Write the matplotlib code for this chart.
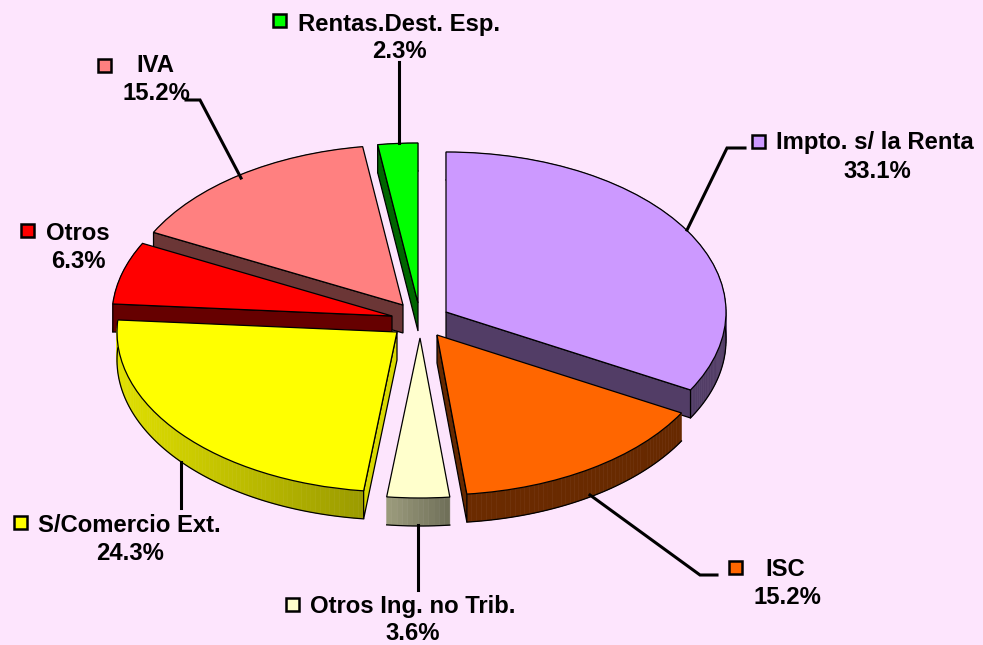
import numpy as np
import matplotlib
matplotlib.use("Agg")
import matplotlib.pyplot as plt
from matplotlib.patches import Wedge, Polygon, Rectangle
from matplotlib.collections import PolyCollection
from matplotlib.transforms import Affine2D

# --- data
categories = ["Impto. s/ la Renta", "ISC", "Otros Ing. no Trib.", "S/Comercio Ext.",
              "Otros", "IVA", "Rentas.Dest. Esp."]
values = [33.1, 15.2, 3.6, 24.3, 6.3, 15.2, 2.3]
colors = ["#CC99FF", "#FF6600", "#FFFFCC", "#FFFF00", "#FF0000", "#FF8080", "#00FF00"]
pct_labels = ["33.1%", "15.2%", "3.6%", "24.3%", "6.3%", "15.2%", "2.3%"]

# --- layout (pixels)
W, H = 983, 645
BG = "#FDE5FD"
RX, RY, DEPTH = 280, 160, 28
apex = [(446, 312), (437, 335), (420, 338), (397, 332), (392, 316), (403, 305), (418, 303)]
wall_light = [0.4, 0.4, 0.4, 0.85, 0.4, 0.42, 0.4]
draw_order = [6, 5, 4, 0, 3, 1, 2]
marker_xy = [(758, 141), (735, 567), (292, 604), (20, 522), (27, 230), (104, 65), (279, 20)]
name_xy = [(776, 143), (765, 569), (310, 606), (38, 525), (46, 233), (136, 66), (298, 24)]
pct_xy = [(877, 171), (787, 597), (413, 633), (130, 553), (78, 261), (156, 94), (399, 51)]
leaders = [[(745, 148), (727, 148), (687, 230)],
           [(717, 575), (700, 575), (590, 495)],
           [(418, 525), (418, 590)],
           [(181, 508), (181, 462)],
           None,
           [(186, 100), (200, 100), (241, 178)],
           [(399, 62), (399, 143)]]

plt.rcParams["font.family"] = ["Liberation Sans", "DejaVu Sans"]
fig = plt.figure(figsize=(W / 100, H / 100), dpi=100, facecolor=BG)
ax = fig.add_axes([0, 0, 1, 1])
ax.set_xlim(0, W)
ax.set_ylim(H, 0)
ax.axis("off")


def shade(col, k):
    return tuple(c * k for c in matplotlib.colors.to_rgb(col))


def rim_light(s):
    return np.interp(s, [-1, -0.1, 0.12, 1], [0.88, 0.6, 0.42, 0.4])


edges = np.cumsum([0] + values) / sum(values) * 360
z = 2
for i in draw_order:
    t1, t2 = edges[i], edges[i + 1]
    cx, cy = apex[i]
    col = colors[i]
    th = np.radians(np.linspace(t1, t2, max(int(t2 - t1), 2) + 1))
    px = cx + RX * np.sin(th)
    py = cy - RY * np.cos(th)

    # outer rim
    quads, cols = [], []
    for j in range(len(th) - 1):
        quads.append([(px[j], py[j]), (px[j + 1], py[j + 1]),
                      (px[j + 1], py[j + 1] + DEPTH), (px[j], py[j] + DEPTH)])
        cols.append(shade(col, rim_light(np.sin((th[j] + th[j + 1]) / 2))))
    ax.add_collection(PolyCollection(quads, facecolors=cols, edgecolors=cols, linewidths=0.4, zorder=z))
    ax.plot(px, py + DEPTH, color="#000000", lw=0.9, zorder=z)
    # radial walls: only those that face the viewer
    if np.sin(np.radians(t1)) < 0:
        ax.add_patch(Polygon([(cx, cy), (px[0], py[0]), (px[0], py[0] + DEPTH), (cx, cy + DEPTH)],
                             closed=True, fc=shade(col, wall_light[i]), ec="#000000", lw=0.9, zorder=z))
    if np.sin(np.radians(t2)) > 0:
        ax.add_patch(Polygon([(cx, cy), (px[-1], py[-1]), (px[-1], py[-1] + DEPTH), (cx, cy + DEPTH)],
                             closed=True, fc=shade(col, wall_light[i]), ec="#000000", lw=0.9, zorder=z))
    # top face
    tr = Affine2D().scale(RX, RY).translate(cx, cy) + ax.transData
    ax.add_patch(Wedge((0, 0), 1, t1 - 90, t2 - 90, fc=col, ec="#000000", lw=0.9,
                       transform=tr, zorder=z))
    z += 1

for pts in leaders:
    if pts:
        xs, ys = zip(*pts)
        ax.plot(xs, ys, color="#000000", lw=2.2, solid_joinstyle="miter", zorder=z)
z += 1

FS = 17.2
for i, name in enumerate(categories):
    mx, my = marker_xy[i]
    ax.add_patch(Rectangle((mx - 6.5, my - 6.5), 13, 13, fc=colors[i], ec="#000000", lw=1.8, zorder=z))
    ax.text(*name_xy[i], name, ha="left", va="center", fontsize=FS, fontweight="bold", color="#000000", zorder=z)
    ax.text(*pct_xy[i], pct_labels[i], ha="center", va="center", fontsize=FS, fontweight="bold", color="#000000", zorder=z)

fig.savefig("out.png", dpi=100, facecolor=BG)
